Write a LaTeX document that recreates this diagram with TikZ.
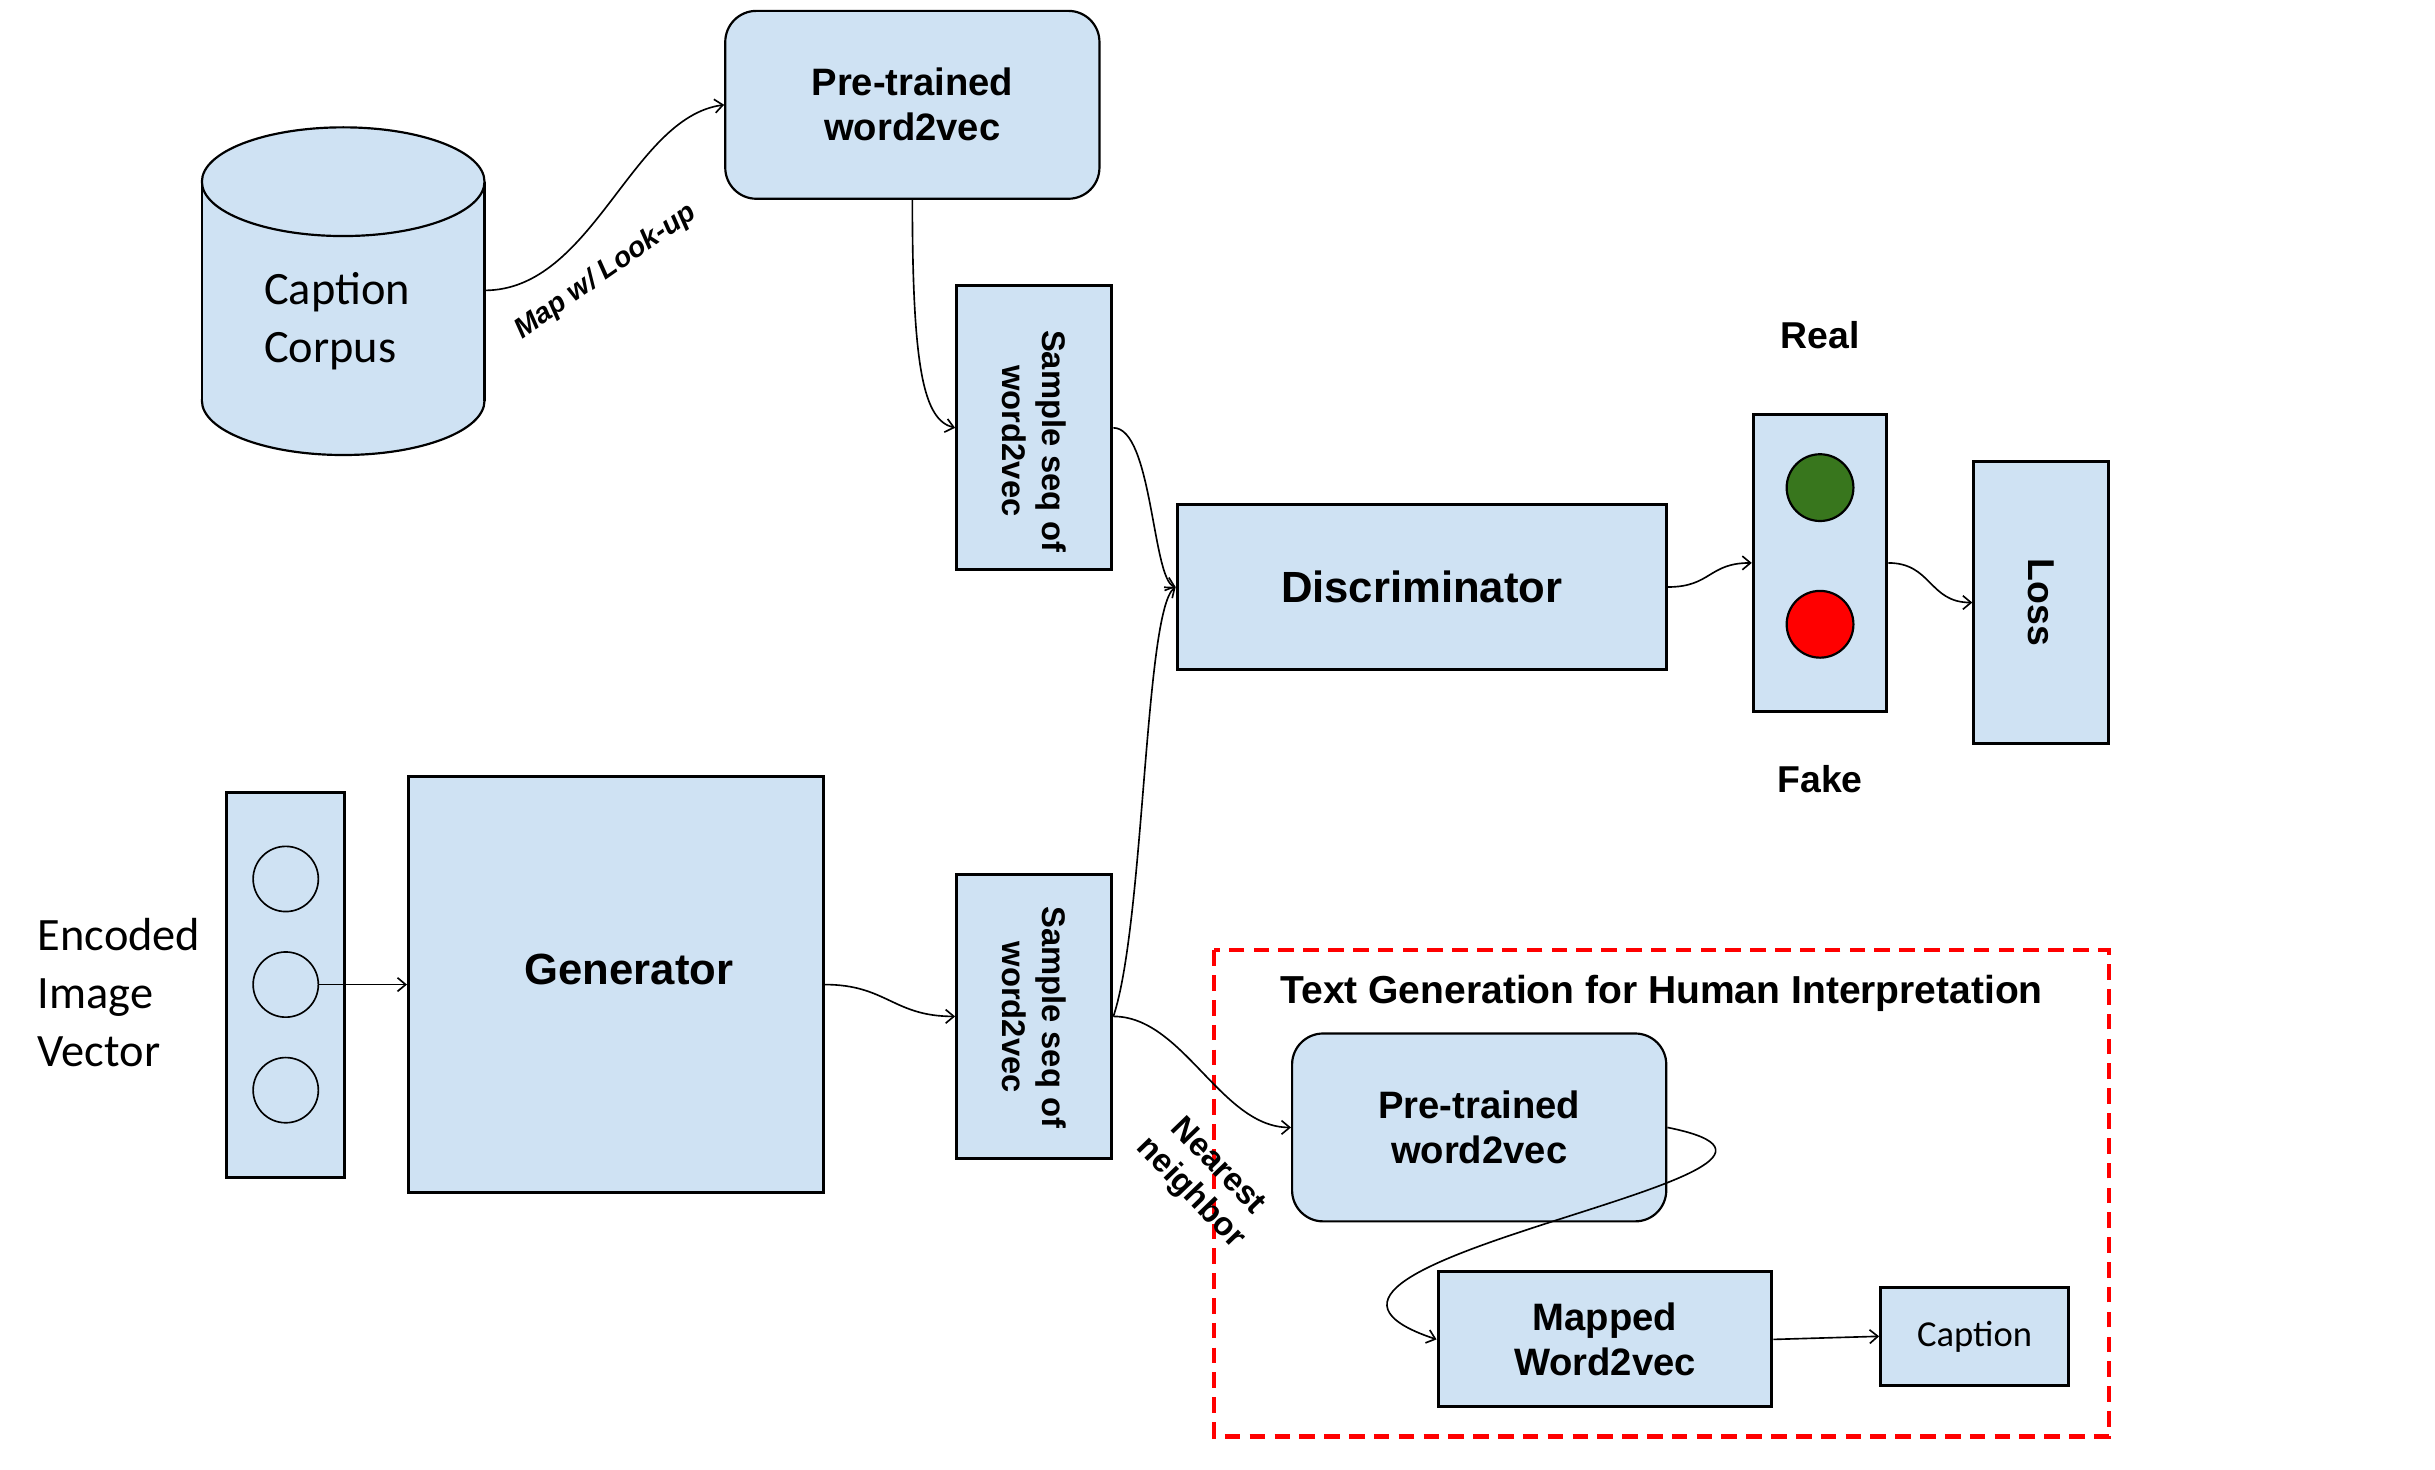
\documentclass[tikz,border=0pt]{standalone}
\usepackage{fontspec}
\setmainfont{Liberation Sans}
\newfontfamily\calibri{Carlito}
\usetikzlibrary{arrows.meta,positioning}
\definecolor{boxblue}{HTML}{CFE2F3}
\definecolor{realgreen}{HTML}{38761D}
\definecolor{fakered}{HTML}{FF0000}

\begin{document}
\begin{tikzpicture}[
		x=0.02cm, y=-0.02cm,
		box/.style={rectangle, draw, line width=1.1pt, fill=boxblue, align=center,
				font=\bfseries\fontsize{14}{16.5}\selectfont},
		roundbox/.style={box, rounded corners=0.4cm, line width=0.8pt,
				minimum width=4.82cm, minimum height=2.42cm},
		seqbox/.style={box, minimum width=2cm, minimum height=3.66cm},
		sidetext/.style={rotate=-90, align=center, font=\bfseries\fontsize{12}{14.8}\selectfont},
		unit/.style={circle, draw, line width=0.6pt, minimum size=0.84cm, inner sep=0pt},
		lamp/.style={unit, line width=0.8pt, minimum size=0.86cm},
		plain/.style={font=\calibri\fontsize{17}{21.3}\selectfont, align=left, inner sep=0pt},
		tag/.style={font=\bfseries\fontsize{13.7}{16}\selectfont},
		tgframe/.style={draw=fakered, line width=1.5pt, dash pattern=on 5.7pt off 3.4pt},
		arr/.style={-{Straight Barb[length=3pt,width=5pt]}, line width=0.6pt},
		]
		\useasboundingbox (0,0) rectangle (1568,946);

		% Caption corpus cylinder
		\filldraw[fill=boxblue, line width=0.8pt] (221,258) ellipse [x radius=91, y radius=35];
		\fill[boxblue] (130,117) rectangle (312,258);
		\draw[line width=0.8pt] (130,117) -- (130,258) (312,117) -- (312,258);
		\filldraw[fill=boxblue, line width=0.8pt] (221,117) ellipse [x radius=91, y radius=35];
		\node[plain] (corpus) at (217,207) {Caption\\Corpus};
		\coordinate (corpusout) at (312,187);

		% Nodes
		\node[roundbox] (pre1) at (587.5,67.5) {Pre-trained\\word2vec};
		\node[seqbox] (seq1) at (666,275.5) {};
		\node[sidetext] (seq1txt) at (666,284) {Sample seq of\\word2vec};
		\node[box, minimum width=6.3cm, minimum height=2.12cm,
			font=\bfseries\fontsize{16}{19}\selectfont] (disc) at (915.5,378) {Discriminator};

		\node[box, minimum width=1.72cm, minimum height=3.82cm] (rf) at (1172,362.5) {};
		\node[lamp, fill=realgreen] (green) at (1172,314) {};
		\node[lamp, fill=fakered] (red) at (1172,402) {};
		\node[tag] (real) at (1172,216) {Real};
		\node[tag] (fake) at (1172,502) {Fake};

		\node[box, minimum width=1.74cm, minimum height=3.64cm] (loss) at (1314.5,388) {};
		\node[sidetext, font=\bfseries\fontsize{13.7}{16}\selectfont] (losstxt) at (1314.5,388) {Loss};

		\node[box, minimum width=1.52cm, minimum height=4.96cm] (enc) at (184,634) {};
		\node[unit] (c1) at (184,566) {};
		\node[unit] (c2) at (184,634) {};
		\node[unit] (c3) at (184,702) {};
		\node[plain, anchor=west] (enctxt) at (24,639) {Encoded\\Image\\Vector};

		\node[box, minimum width=5.34cm, minimum height=5.36cm] (gen) at (396.5,634) {};
		\node[font=\bfseries\fontsize{16}{19}\selectfont] (gentxt) at (405,624) {Generator};
		\node[seqbox] (seq2) at (666,654.5) {};
		\node[sidetext] (seq2txt) at (666,655) {Sample seq of\\word2vec};

		% Text generation part
		\draw[tgframe] (782,612) rectangle (1358,925);
		\node[font=\bfseries\fontsize{14.3}{17}\selectfont] (tgtitle) at (1070,640)
			{Text Generation for Human Interpretation};
		\node[roundbox] (pre2) at (952.5,726) {Pre-trained\\word2vec};
		\node[box, minimum width=4.3cm, minimum height=1.74cm] (mapped) at (1033.5,862.5) {Mapped\\Word2vec};
		\node[box, minimum width=2.42cm, minimum height=1.26cm,
			font=\calibri\fontsize{13.4}{16}\selectfont] (caption) at (1271.5,860.5) {Caption};

		% Arrows
		\draw[arr] (corpusout) .. controls +(70,0) and +(-60,8) .. (pre1.west);
		\node[rotate=35, font=\bfseries\itshape\fontsize{10.4}{12}\selectfont] (lookup) at (390,175) {Map w/ Look-up};
		\draw[arr] (pre1.south) .. controls +(0,110) and +(-20,-5) .. (seq1.west);
		\draw[arr] (seq1.east) .. controls +(25,0) and +(-15,-5) .. (disc.west);
		\draw[arr] (seq2.east) .. controls +(20,-60) and +(-20,15) .. (disc.west);
		\draw[arr] (c2.east) -- (gen.west);
		\draw[arr] (gen.east) .. controls +(40,0) and +(-40,0) .. (seq2.west);
		\draw[arr] (seq2.east) .. controls +(45,0) and +(-45,0) .. (pre2.west);
		\node[rotate=-46, align=center, font=\bfseries\fontsize{12}{14}\selectfont] (nn) at (775,760) {Nearest\\neighbor};
		\draw[arr] (disc.east) .. controls +(28,0) and +(-28,0) .. (rf.west);
		\draw[arr] (rf.east) .. controls +(28,0) and +(-28,0) .. (loss.west);
		\draw[arr] (pre2.east) .. controls +(150,30) and +(-150,-50) .. (mapped.west);
		\draw[arr] (mapped.east) -- (caption.west);
	\end{tikzpicture}
\end{document}
